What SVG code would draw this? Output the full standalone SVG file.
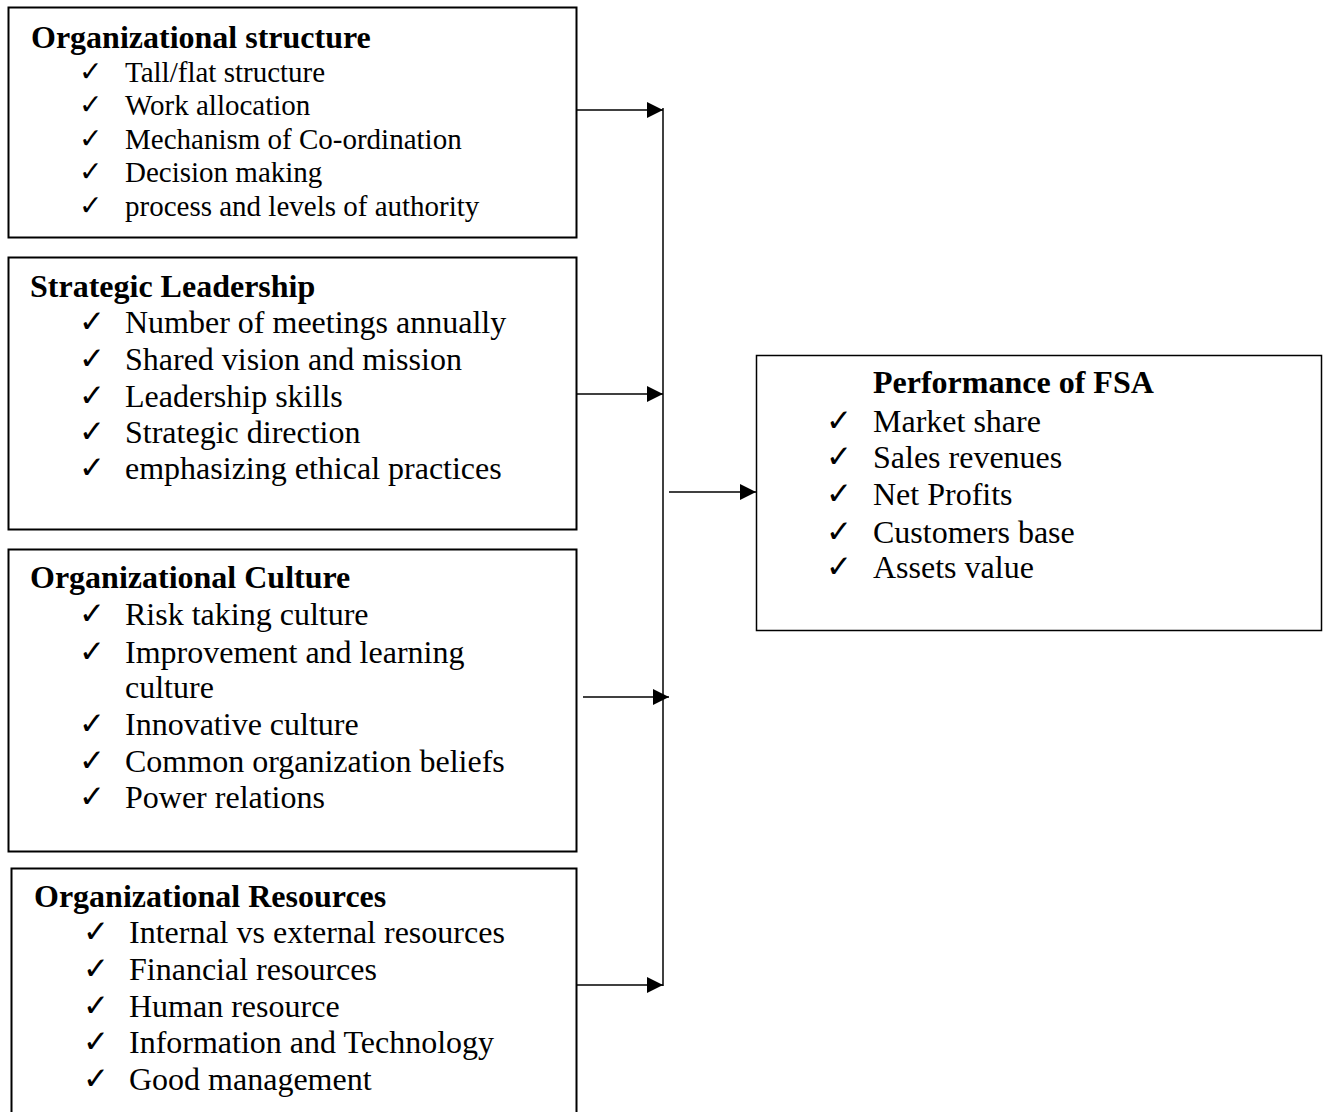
<svg xmlns="http://www.w3.org/2000/svg" width="1326" height="1112" viewBox="0 0 1326 1112">
<style>
.box{fill:#fff;stroke:#000;stroke-width:2}
.boxr{fill:#fff;stroke:#000;stroke-width:1.5}
.t{font-family:"Liberation Serif","Times New Roman",serif;font-weight:bold;font-size:32px;fill:#000}
.i{font-family:"Liberation Serif","Times New Roman",serif;font-size:32px;fill:#000}
.s{font-size:29px}
.ck{font-family:"DejaVu Sans",sans-serif;font-size:31px;fill:#000}
.ck2{font-size:28px}
.c{stroke:#000;stroke-width:1.5;fill:none}
</style>
<defs>
<marker id="ah" markerUnits="userSpaceOnUse" markerWidth="16" markerHeight="16" viewBox="0 0 14 14" refX="14" refY="7" orient="auto">
<path d="M0,0 L14,7 L0,14 Z" fill="#000"/>
</marker>
</defs>
<rect width="1326" height="1112" fill="#fff"/>

<g id="node-structure">
<rect class="box" x="8.5" y="7.5" width="568" height="230"/>
<text class="t" x="31" y="48">Organizational structure</text>
<text class="ck ck2" x="79" y="81">✓</text><text class="i s" x="125" y="82">Tall/flat structure</text>
<text class="ck ck2" x="79" y="114">✓</text><text class="i s" x="125" y="115">Work allocation</text>
<text class="ck ck2" x="79" y="148">✓</text><text class="i s" x="125" y="149">Mechanism of Co-ordination</text>
<text class="ck ck2" x="79" y="181">✓</text><text class="i s" x="125" y="182">Decision making</text>
<text class="ck ck2" x="79" y="215">✓</text><text class="i s" x="125" y="216">process and levels of authority</text>
</g>

<g id="node-leadership">
<rect class="box" x="8.5" y="257.5" width="568" height="272"/>
<text class="t" x="30" y="297">Strategic Leadership</text>
<text class="ck" x="79" y="332">✓</text><text class="i" x="125" y="333">Number of meetings annually</text>
<text class="ck" x="79" y="369">✓</text><text class="i" x="125" y="370">Shared vision and mission</text>
<text class="ck" x="79" y="406">✓</text><text class="i" x="125" y="407">Leadership skills</text>
<text class="ck" x="79" y="442">✓</text><text class="i" x="125" y="443">Strategic direction</text>
<text class="ck" x="79" y="478">✓</text><text class="i" x="125" y="479">emphasizing ethical practices</text>
</g>

<g id="node-culture">
<rect class="box" x="8.5" y="549.5" width="568" height="302"/>
<text class="t" x="30" y="588">Organizational Culture</text>
<text class="ck" x="79" y="624">✓</text><text class="i" x="125" y="625">Risk taking culture</text>
<text class="ck" x="79" y="662">✓</text><text class="i" x="125" y="663">Improvement and learning</text>
<text class="i" x="125" y="698">culture</text>
<text class="ck" x="79" y="734">✓</text><text class="i" x="125" y="735">Innovative culture</text>
<text class="ck" x="79" y="771">✓</text><text class="i" x="125" y="772">Common organization beliefs</text>
<text class="ck" x="79" y="807">✓</text><text class="i" x="125" y="808">Power relations</text>
</g>

<g id="node-resources">
<rect class="box" x="11.5" y="868.5" width="565" height="260"/>
<text class="t" x="34" y="907">Organizational Resources</text>
<text class="ck" x="83" y="942">✓</text><text class="i" x="129" y="943">Internal vs external resources</text>
<text class="ck" x="83" y="979">✓</text><text class="i" x="129" y="980">Financial resources</text>
<text class="ck" x="83" y="1016">✓</text><text class="i" x="129" y="1017">Human resource</text>
<text class="ck" x="83" y="1052">✓</text><text class="i" x="129" y="1053">Information and Technology</text>
<text class="ck" x="83" y="1089">✓</text><text class="i" x="129" y="1090">Good management</text>
</g>

<g id="node-performance">
<rect class="boxr" x="756.5" y="355.5" width="565" height="275"/>
<text class="t" x="873" y="393">Performance of FSA</text>
<text class="ck" x="826" y="431">✓</text><text class="i" x="873" y="432">Market share</text>
<text class="ck" x="826" y="467">✓</text><text class="i" x="873" y="468">Sales revenues</text>
<text class="ck" x="826" y="504">✓</text><text class="i" x="873" y="505">Net Profits</text>
<text class="ck" x="826" y="542">✓</text><text class="i" x="873" y="543">Customers base</text>
<text class="ck" x="826" y="577">✓</text><text class="i" x="873" y="578">Assets value</text>
</g>

<g id="connectors">
<line class="c" x1="663" y1="108" x2="663" y2="986"/>
<line class="c" x1="577" y1="110" x2="663" y2="110" marker-end="url(#ah)"/>
<line class="c" x1="577" y1="394" x2="663" y2="394" marker-end="url(#ah)"/>
<line class="c" x1="583" y1="697" x2="669" y2="697" marker-end="url(#ah)"/>
<line class="c" x1="577" y1="985" x2="663" y2="985" marker-end="url(#ah)"/>
<line class="c" x1="669" y1="492" x2="756" y2="492" marker-end="url(#ah)"/>
</g>
</svg>
